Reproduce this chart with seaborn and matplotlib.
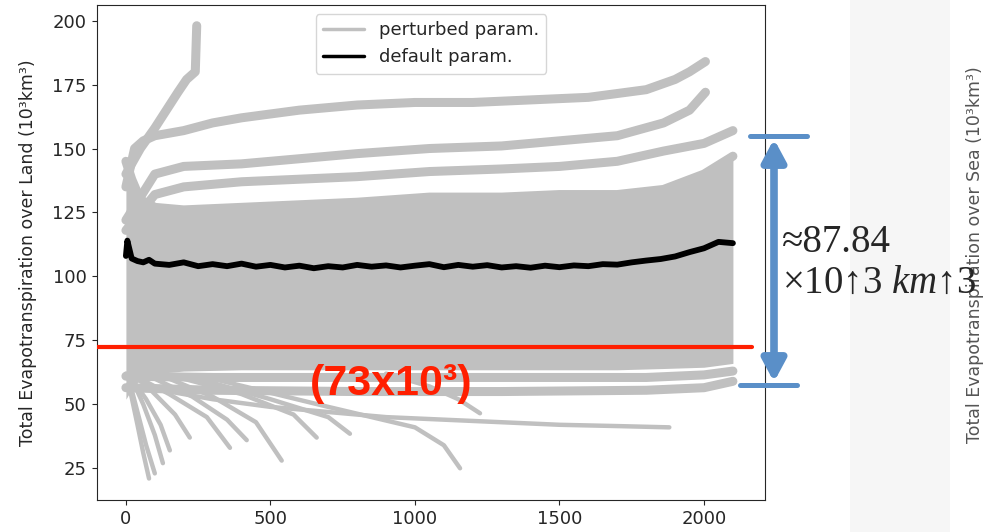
import matplotlib
matplotlib.use("Agg")
import matplotlib.pyplot as plt
from matplotlib.lines import Line2D
from matplotlib.patches import Rectangle
import pandas as pd
import seaborn as sns

sns.set_style("ticks")
plt.rcParams["font.family"] = ["DejaVu Sans"]
plt.rcParams["mathtext.fontset"] = "custom"
plt.rcParams["mathtext.rm"] = "Liberation Serif"
plt.rcParams["mathtext.it"] = "Liberation Serif:italic"

GRAY = "#c0c0c0"
RED = "#ff1f00"
BLUE = "#5a8fc8"

# perturbed runs (year, total ET over land)
spike_years = [0, 50, 100, 140, 180, 210, 240, 245]
spike_vals = [140, 150, 158, 165, 172, 177, 180, 198]

top_years = [0, 30, 60, 100, 200, 300, 400, 600, 800, 1000, 1200, 1400, 1600, 1800, 1900, 1950, 2005]
top_vals = [135, 150, 153, 155, 157, 160, 162, 165, 167, 168, 168, 169, 170, 173, 177, 180, 184]

second_years = [0, 100, 200, 400, 600, 800, 1050, 1300, 1500, 1700, 1860, 1950, 2005]
second_vals = [122, 140, 143, 144, 146, 148, 150, 151, 153, 155, 160, 165, 172]

third_years = [0, 100, 200, 400, 600, 800, 1050, 1300, 1500, 1700, 1860, 2000, 2100]
third_vals = [118, 132, 135, 137, 138, 139, 141, 142, 143, 145, 149, 152, 157]

# the dense cloud of runs between ~65 and ~135
band_years = [0, 20, 50, 100, 200, 400, 600, 800, 1050, 1300, 1500, 1700, 1860, 2000, 2100]
band_high = [145, 138, 130, 127, 126, 127, 128, 129, 131, 131, 132, 132, 134, 140, 147]
band_low = [52, 56, 60, 62, 63, 63.5, 63.5, 63.5, 63.5, 63.5, 63.5, 63.5, 64, 64.5, 66]

low1_years = [0, 300, 800, 1300, 1800, 2000, 2100]
low1_vals = [61, 60.5, 60.5, 60.5, 60.5, 61.5, 63]
low2_vals = [56.5, 55.5, 55, 55, 55.5, 56.5, 59]

long_years = [0, 100, 300, 500, 700, 900, 1100, 1300, 1500, 1700, 1880]
long_vals = [62, 56, 52, 49, 47, 45, 44, 43, 42, 41.5, 41]

# runs that drop out early
b1_years, b1_vals = [10, 40, 60, 80], [58, 42, 31, 21]
b2_years, b2_vals = [10, 40, 70, 100], [60, 47, 34, 23]
b3_years, b3_vals = [20, 60, 100, 128], [60, 50, 38, 27]
b4_years, b4_vals = [20, 70, 120, 152], [60, 52, 42, 32]
b5_years, b5_vals = [30, 100, 170, 221], [62, 54, 46, 37]
b6_years, b6_vals = [50, 150, 280, 360], [60, 54, 45, 33]
b7_years, b7_vals = [100, 230, 350, 418], [60, 53, 44, 36]
b8_years, b8_vals = [150, 300, 450, 539], [60, 53, 43, 28]
b9_years, b9_vals = [200, 400, 580, 660], [60, 54, 46, 37]
b10_years, b10_vals = [250, 500, 700, 775], [60, 52, 45, 38.5]
b11_years, b11_vals = [300, 700, 1000, 1100, 1156], [60, 49, 41, 34, 25]
b12_years, b12_vals = [900, 1050, 1150, 1225], [62, 57, 52, 46.5]

# default parameter run
default_years = [0, 5, 20, 40, 60, 80, 100, 150, 200, 250, 300, 350, 400, 450, 500, 550, 600,
                 650, 700, 750, 800, 850, 900, 950, 1000, 1050, 1100, 1150, 1200, 1250, 1300,
                 1350, 1400, 1450, 1500, 1550, 1600, 1650, 1700, 1750, 1800, 1850, 1900, 1950,
                 2000, 2050, 2100]
default_vals = [108, 114, 107, 106, 105.5, 106.5, 105, 104.5, 105.5, 104, 104.8, 104, 105, 103.8,
                104.5, 103.5, 104.2, 103.2, 104, 103.5, 104.5, 103.8, 104.3, 103.5, 104.2, 104.8,
                103.6, 104.5, 103.8, 104.4, 103.5, 104, 103.4, 104.2, 103.6, 104.3, 104, 104.8,
                104.6, 105.5, 106.2, 106.8, 107.8, 109.5, 111, 113.5, 113]

thick_runs = {
    "spike": (spike_years, spike_vals),
    "top": (top_years, top_vals),
    "second": (second_years, second_vals),
    "third": (third_years, third_vals),
    "band_top": (band_years, band_high),
    "low1": (low1_years, low1_vals),
    "low2": (low1_years, low2_vals),
}
thin_runs = {
    "long": (long_years, long_vals),
    "b1": (b1_years, b1_vals), "b2": (b2_years, b2_vals), "b3": (b3_years, b3_vals),
    "b4": (b4_years, b4_vals), "b5": (b5_years, b5_vals), "b6": (b6_years, b6_vals),
    "b7": (b7_years, b7_vals), "b8": (b8_years, b8_vals), "b9": (b9_years, b9_vals),
    "b10": (b10_years, b10_vals), "b11": (b11_years, b11_vals), "b12": (b12_years, b12_vals),
}


def to_long(runs):
    rows = []
    for name, (yrs, vals) in runs.items():
        for x, v in zip(yrs, vals):
            rows.append((name, x, v))
    return pd.DataFrame(rows, columns=["run", "year", "et"])


thick_df = to_long(thick_runs)
thin_df = to_long(thin_runs)
default_df = pd.DataFrame({"year": default_years, "et": default_vals})

W, H = 986, 532
fig = plt.figure(figsize=(W / 100, H / 100), dpi=100)
ax = fig.add_axes([97 / W, 1 - 500 / H, (765 - 97) / W, (500 - 5) / H])


def px(x, y):
    # image pixels (from top-left) -> figure fraction
    return x / W, 1 - y / H


ax.fill_between(band_years, band_low, band_high, color=GRAY, lw=0)
sns.lineplot(data=thick_df, x="year", y="et", units="run", estimator=None, sort=False,
             color=GRAY, lw=6.5, legend=False, ax=ax)
gray_handle = ax.lines[0]
sns.lineplot(data=thin_df, x="year", y="et", units="run", estimator=None, sort=False,
             color=GRAY, lw=3.2, legend=False, ax=ax)
sns.lineplot(data=default_df, x="year", y="et", color="black", lw=4.2, legend=False, ax=ax)
black_handle = ax.lines[-1]

ax.axhline(72.4, xmin=0, xmax=0.98, color=RED, lw=3, zorder=5)
ax.text(917, 53.5, "(73x10³)", color=RED, fontsize=31, fontweight="bold",
        family=["Liberation Sans", "DejaVu Sans"], ha="center", va="baseline", zorder=6)

ax.set_xlim(-100, 2211)
ax.set_ylim(12.6, 206.1)
ax.set_xticks([0, 500, 1000, 1500, 2000])
ax.set_yticks([25, 50, 75, 100, 125, 150, 175, 200])
ax.tick_params(labelsize=13, pad=4)
ax.set_xlabel("")
ax.set_ylabel("Total Evapotranspiration over Land (10³km³)", fontsize=12.5, labelpad=11)

leg = ax.legend([gray_handle, black_handle], ["perturbed param.", "default param."],
                loc="upper center", fontsize=13, handlelength=2.3)
for ln in leg.get_lines():
    ln.set_linewidth(2.5)

# light panel of the neighbouring figure
fig.add_artist(Rectangle(px(850, 532), 100 / W, 1, transform=fig.transFigure,
                         color="#f6f6f6", lw=0, zorder=-1))
fig.text(*px(975, 255), "Total Evapotranspiration over Sea (10³km³)", rotation=90,
         fontsize=12.5, color="#555555", ha="center", va="center")

# blue range marker
for x0, x1, y in [(750, 807, 136), (740, 797, 385)]:
    fig.add_artist(Line2D([x0 / W, x1 / W], [1 - y / H] * 2, transform=fig.transFigure,
                          color=BLUE, lw=3.6, zorder=4))
ax.annotate("", xy=px(774, 139), xytext=px(774, 382), xycoords="figure fraction",
            textcoords="figure fraction", annotation_clip=False,
            arrowprops=dict(arrowstyle="<|-|>,head_length=1.3,head_width=0.7",
                            mutation_scale=10, lw=5.5, color=BLUE,
                            shrinkA=0, shrinkB=0))
serif = ["Liberation Serif", "DejaVu Serif"]
fig.text(*px(782, 252), "≈87.84", fontsize=28, family=serif, ha="left", va="baseline")
fig.text(*px(782, 293), "×10↑3 $km$↑3", fontsize=28, family=serif, ha="left", va="baseline")

fig.savefig("out.png", dpi=100)
